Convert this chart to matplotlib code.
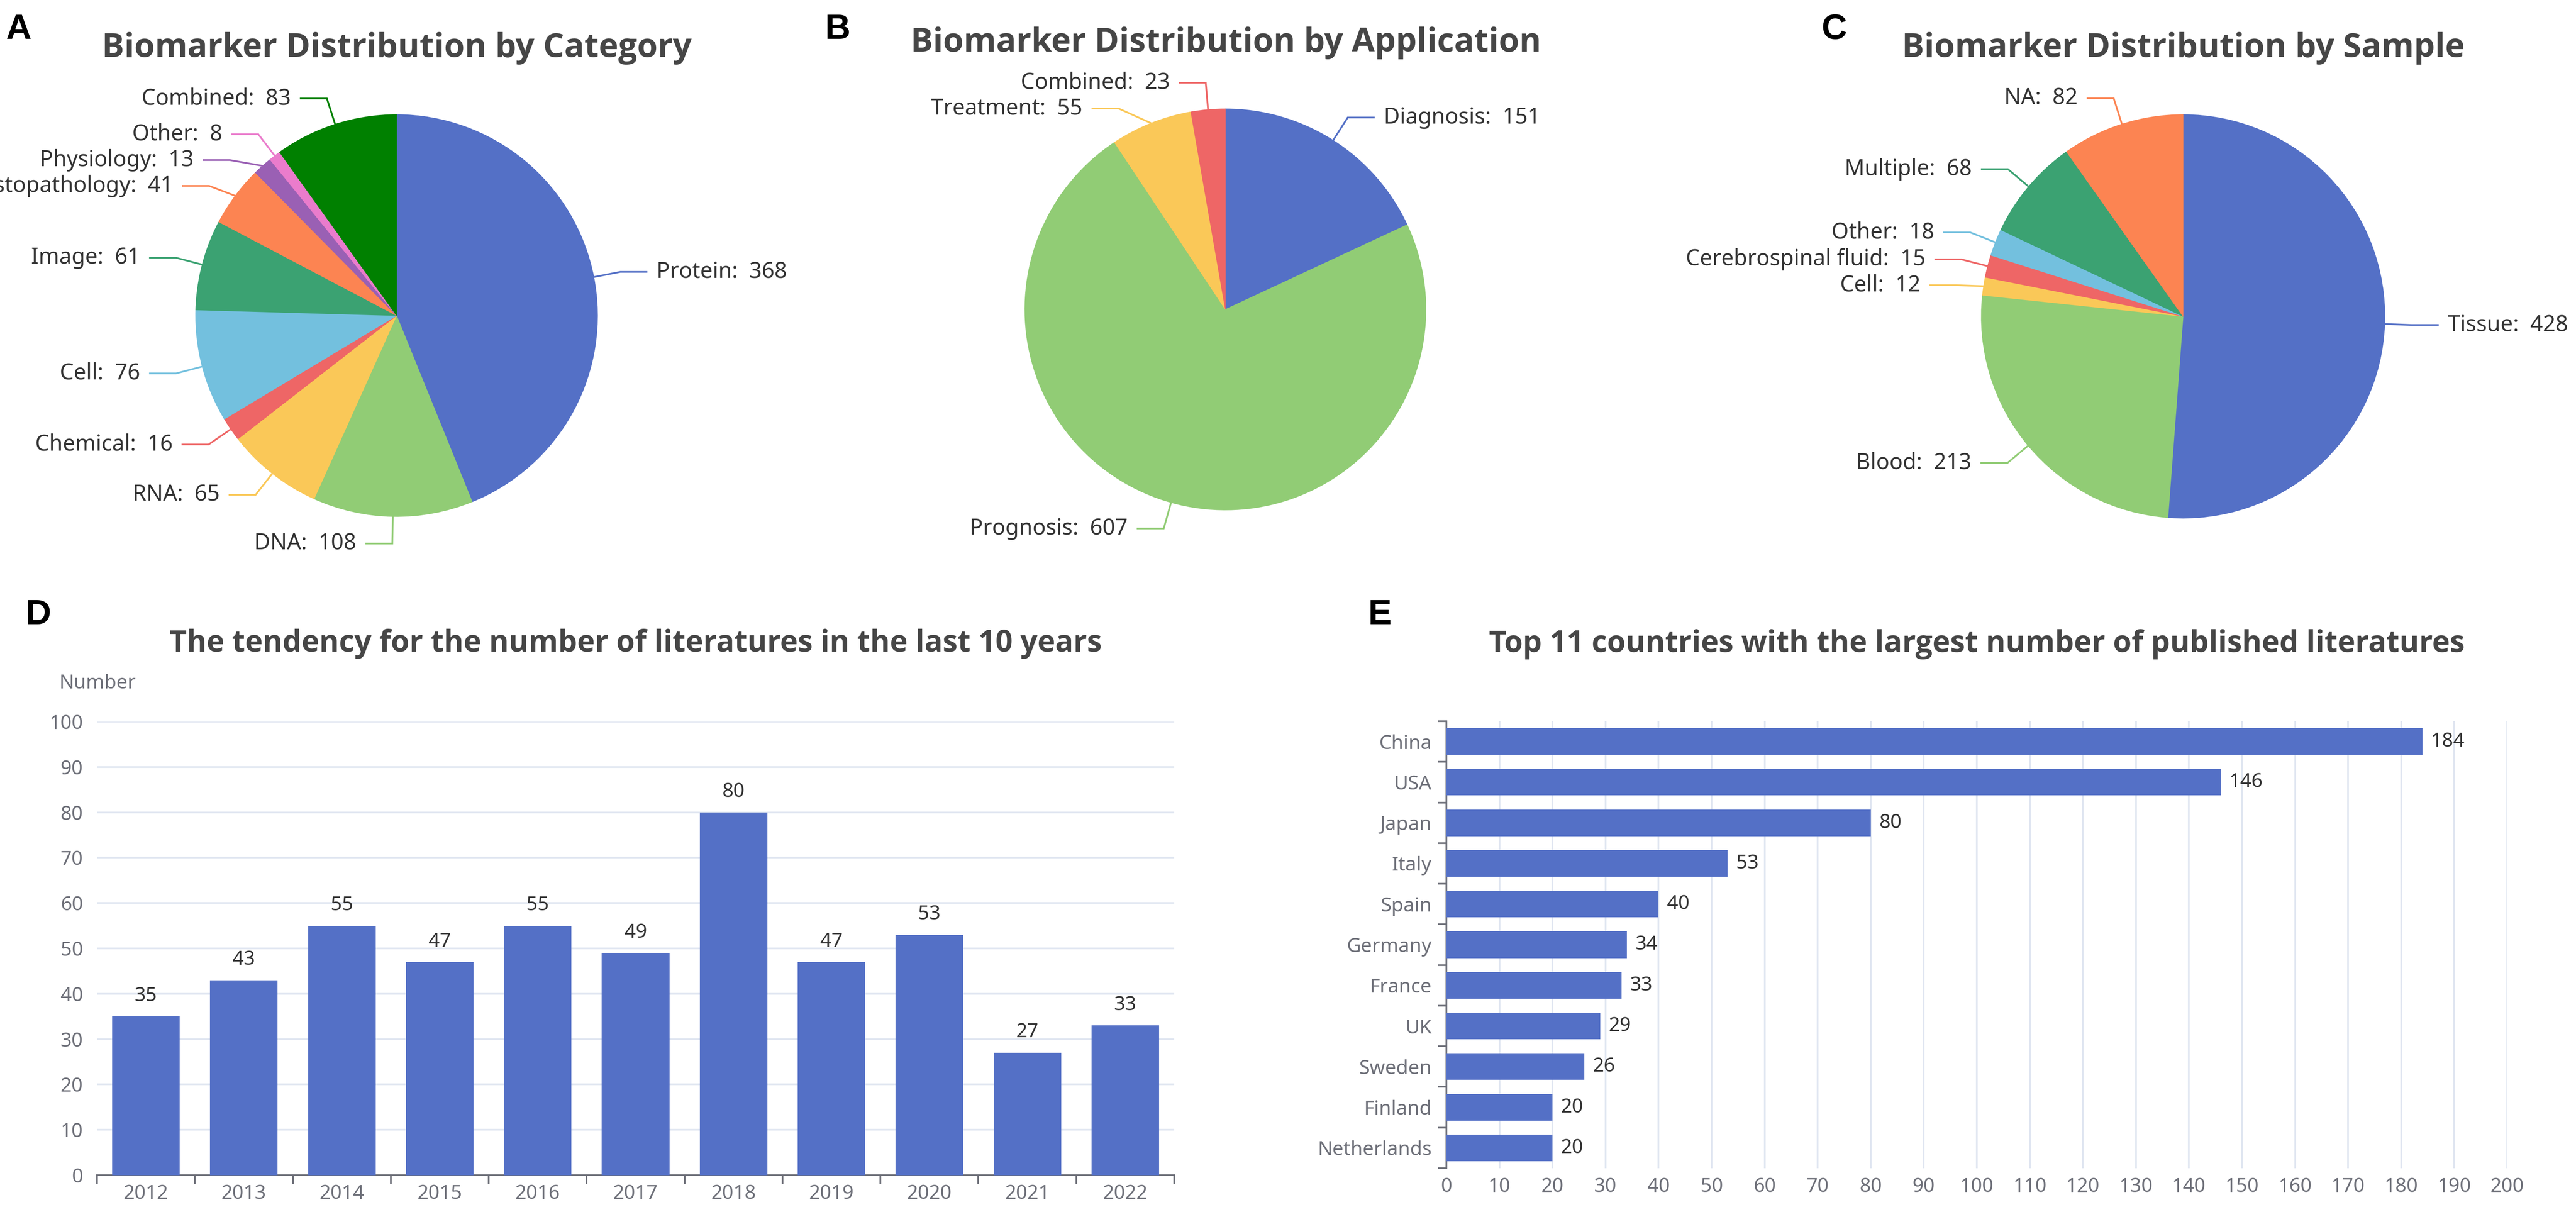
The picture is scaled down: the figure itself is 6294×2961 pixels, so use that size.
import numpy as np
import matplotlib
matplotlib.use('Agg')
import matplotlib.pyplot as plt

# ---------------- data ----------------
cat_names = ["Protein", "DNA", "RNA", "Chemical", "Cell", "Image",
             "Histopathology", "Physiology", "Other", "Combined"]
cat_values = [368, 108, 65, 16, 76, 61, 41, 13, 8, 83]

app_names = ["Diagnosis", "Prognosis", "Treatment", "Combined"]
app_values = [151, 607, 55, 23]

sample_names = ["Tissue", "Blood", "Cell", "Cerebrospinal fluid", "Other", "Multiple", "NA"]
sample_values = [428, 213, 12, 15, 18, 68, 82]

years = ["2012", "2013", "2014", "2015", "2016", "2017", "2018", "2019", "2020", "2021", "2022"]
year_counts = [35, 43, 55, 47, 55, 49, 80, 47, 53, 27, 33]

countries = ["China", "USA", "Japan", "Italy", "Spain", "Germany", "France",
             "UK", "Sweden", "Finland", "Netherlands"]
country_counts = [184, 146, 80, 53, 40, 34, 33, 29, 26, 20, 20]

titles = ["Biomarker Distribution by Category",
          "Biomarker Distribution by Application",
          "Biomarker Distribution by Sample",
          "The tendency for the number of literatures in the last 10 years",
          "Top 11 countries with the largest number of published literatures"]

# ---------------- style ----------------
PALETTE = ['#5470c6', '#91cc75', '#fac858', '#ee6666', '#73c0de',
           '#3ba272', '#fc8452', '#9a60b4', '#ea7ccc']
cat_colors = PALETTE + ['#008000']
BAR_COLOR = '#5470c6'
GRID = '#E0E6F1'
AXIS = '#6E7079'
TITLE_C = '#464646'
TEXT_C = '#333333'

W, H = 6294, 2961
DPI = 100
PX = 72.0 / DPI          # points per pixel
LW = 4.2 * PX

plt.rcParams['font.family'] = ['Noto Sans', 'DejaVu Sans']
TITLE_FAMILY = ['Open Sans', 'DejaVu Sans']

fig = plt.figure(figsize=(W / DPI, H / DPI), dpi=DPI)
fig.patch.set_facecolor('white')
renderer = fig.canvas.get_renderer()


def fx(x):
    return x / W


def fy(y):
    return 1 - y / H


def fit_size(text, target_px, weight='normal', family=None):
    kw = {}
    if family:
        kw['family'] = family
    t = fig.text(0, 0, text, fontsize=100, fontweight=weight, **kw)
    w = t.get_window_extent(renderer=renderer).width
    t.remove()
    return 100.0 * target_px / w


TITLE_FS = fit_size(titles[0], 1441, 'bold', TITLE_FAMILY)
BAR_TITLE_FS = fit_size(titles[4], 2386, 'bold', TITLE_FAMILY)
LABEL_FS = fit_size("Protein:  368", 319)
TICK_FS = fit_size("Netherlands", 279)

# ---------------- pies ----------------
ax0 = fig.add_axes([0, 0, 1, 1])
ax0.axis('off')

L1, L2, GAP, MIN_GAP = 66, 66, 22, 63


def draw_pie(ax, names, values, colors, cx, cy, r):
    wedges, _ = ax.pie(values, colors=colors, startangle=90, counterclock=False,
                       center=(cx, H - cy), radius=r)
    for w in wedges:
        w.set_edgecolor(w.get_facecolor())
        w.set_linewidth(1)
    total = float(sum(values))
    cum = 0.0
    items = []
    for name, v, c in zip(names, values, colors):
        th = 2 * np.pi * (cum + v / 2.0) / total
        cum += v
        s, co = np.sin(th), np.cos(th)
        items.append(dict(name=name, v=v, c=c, side=1 if s >= 0 else -1,
                          ex=cx + r * s, ey=cy - r * co, by=cy - (r + L1) * co))
    R = r + L1
    for side in (1, -1):
        grp = sorted([it for it in items if it['side'] == side], key=lambda it: it['by'])
        prev = None
        for it in grp:
            if prev is not None and it['by'] < prev + MIN_GAP:
                it['by'] = prev + MIN_GAP
            prev = it['by']
    for it in items:
        side = it['side']
        dy = it['by'] - cy
        dx = np.sqrt(max(R * R - dy * dy, 0.0))
        bx = cx + side * dx
        x2 = bx + side * L2
        ax.plot([it['ex'], bx, x2], [H - it['ey'], H - it['by'], H - it['by']],
                color=it['c'], lw=LW, solid_joinstyle='miter', solid_capstyle='butt',
                clip_on=False)
        ax.text(x2 + side * GAP, H - it['by'], f"{it['name']}:  {it['v']}",
                ha='left' if side > 0 else 'right', va='center',
                fontsize=LABEL_FS, color=TEXT_C, clip_on=False)


draw_pie(ax0, cat_names, cat_values, cat_colors, 969, 771, 491)
draw_pie(ax0, app_names, app_values, PALETTE[:4], 2994, 756, 490)
draw_pie(ax0, sample_names, sample_values, PALETTE[:7], 5334, 773, 493)
ax0.set_xlim(0, W)
ax0.set_ylim(0, H)
ax0.set_aspect('auto')

# titles
for (cx, base), t in zip([(969, 139), (2995, 126), (5335, 139)], titles[:3]):
    fig.text(fx(cx), fy(base), t, ha='center', va='baseline', fontsize=TITLE_FS,
             fontweight='bold', family=TITLE_FAMILY, color=TITLE_C)
fig.text(fx(1553), fy(1592), titles[3], ha='center', va='baseline', fontsize=BAR_TITLE_FS,
         fontweight='bold', family=TITLE_FAMILY, color=TITLE_C)
fig.text(fx(4830), fy(1593), titles[4], ha='center', va='baseline', fontsize=BAR_TITLE_FS,
         fontweight='bold', family=TITLE_FAMILY, color=TITLE_C)

# panel letters
for (x, base), letter in zip([(15, 95), (2015, 95), (4451, 95), (62, 1525), (3342, 1525)],
                             "ABCDE"):
    fig.text(fx(x), fy(base), letter, ha='left', va='baseline', fontsize=62,
             fontweight='bold', family='Liberation Sans', color='black')

# ---------------- bar chart D ----------------
axD = fig.add_axes([fx(237), fy(2871), (2869 - 237) / W, (2871 - 1763) / H])
xd = np.arange(len(years))
axD.bar(xd, year_counts, width=0.69, color=BAR_COLOR, zorder=3)
axD.set_xlim(-0.5, len(years) - 0.5)
axD.set_ylim(0, 100)
axD.set_yticks(np.arange(0, 101, 10))
axD.grid(axis='y', color=GRID, lw=LW, zorder=0)
axD.set_axisbelow(True)
for sp in ('top', 'right', 'left'):
    axD.spines[sp].set_visible(False)
axD.spines['bottom'].set_color(AXIS)
axD.spines['bottom'].set_linewidth(LW)
axD.set_xticks(xd)
axD.set_xticklabels(years)
axD.set_xticks(np.arange(-0.5, len(years)), minor=True)
axD.tick_params(axis='x', which='major', length=0, pad=16, labelsize=TICK_FS, labelcolor=AXIS)
axD.tick_params(axis='x', which='minor', length=21 * PX, width=LW, color=AXIS, direction='out')
axD.tick_params(axis='y', length=0, pad=34 * PX, labelsize=TICK_FS, labelcolor=AXIS)
for i, v in enumerate(year_counts):
    axD.annotate(str(v), (i, v), xytext=(0, 50 * PX), textcoords='offset points',
                 ha='center', va='center', fontsize=TICK_FS, color=TEXT_C)
fig.text(fx(238), fy(1670), 'Number', ha='center', va='center', fontsize=TICK_FS, color=AXIS)

# ---------------- bar chart E ----------------
axE = fig.add_axes([fx(3534), fy(2854), (6126 - 3534) / W, (2854 - 1762) / H])
ye = np.arange(len(countries))
axE.barh(ye, country_counts, height=0.655, color=BAR_COLOR, zorder=3)
axE.set_ylim(len(countries) - 0.5, -0.5)
axE.set_xlim(0, 200)
axE.set_xticks(np.arange(0, 201, 10))
axE.grid(axis='x', color=GRID, lw=LW, zorder=0)
axE.set_axisbelow(True)
for sp in ('top', 'right', 'bottom'):
    axE.spines[sp].set_visible(False)
axE.spines['left'].set_color(AXIS)
axE.spines['left'].set_linewidth(LW)
axE.set_yticks(ye)
axE.set_yticklabels(countries)
axE.set_yticks(np.arange(-0.5, len(countries)), minor=True)
axE.tick_params(axis='y', which='major', length=0, pad=36 * PX, labelsize=TICK_FS, labelcolor=AXIS)
axE.tick_params(axis='y', which='minor', length=21 * PX, width=LW, color=AXIS, direction='out')
axE.tick_params(axis='x', length=0, pad=16, labelsize=TICK_FS, labelcolor=AXIS)
for i, v in enumerate(country_counts):
    axE.annotate(str(v), (v, i), xytext=(21 * PX, 0), textcoords='offset points',
                 ha='left', va='center', fontsize=TICK_FS, color=TEXT_C)

fig.savefig('out.png', dpi=DPI, facecolor='white')
